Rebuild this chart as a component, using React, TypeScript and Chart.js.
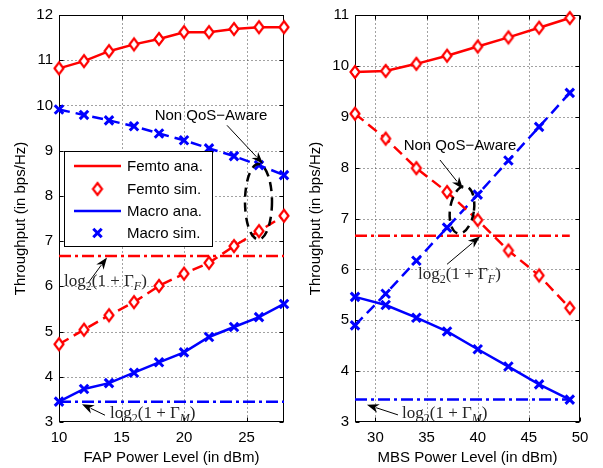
import React, { useEffect, useRef } from "react";
import { Chart, registerables } from "chart.js";
Chart.register(...registerables);

// ---------------- data ----------------
const fapPower = [10, 12, 14, 16, 18, 20, 22, 24, 26, 28];
const fapFemtoQoS = [10.82, 10.98, 11.2, 11.35, 11.47, 11.62, 11.62, 11.69, 11.73, 11.73];
const fapFemtoNonQoS = [4.72, 5.04, 5.36, 5.65, 6.01, 6.28, 6.52, 6.89, 7.22, 7.56];
const fapMacroQoS = [3.45, 3.73, 3.86, 4.09, 4.32, 4.54, 4.88, 5.1, 5.32, 5.61];
const fapMacroNonQoS = [9.91, 9.79, 9.67, 9.54, 9.38, 9.23, 9.05, 8.88, 8.68, 8.46];
const fapFemtoMin = 6.67;
const fapMacroMin = 3.45;

const mbsPower = [28, 31, 34, 37, 40, 43, 46, 49];
const mbsFemtoQoS = [9.88, 9.9, 10.04, 10.2, 10.38, 10.56, 10.75, 10.94];
const mbsFemtoNonQoS = [9.06, 8.57, 7.99, 7.52, 6.97, 6.37, 5.88, 5.24];
const mbsMacroQoS = [5.46, 5.3, 5.05, 4.78, 4.43, 4.09, 3.74, 3.44];
const mbsMacroNonQoS = [4.9, 5.52, 6.17, 6.82, 7.47, 8.14, 8.8, 9.47];
const mbsFemtoMin = 6.66;
const mbsMacroMin = 3.44;

const fapXTicks = [10, 15, 20, 25];
const fapYTicks = [3, 4, 5, 6, 7, 8, 9, 10, 11, 12];
const mbsXTicks = [30, 35, 40, 45, 50];
const mbsYTicks = [3, 4, 5, 6, 7, 8, 9, 10, 11];

const legendLabels = ["Femto ana.", "Femto sim.", "Macro ana.", "Macro sim."];
const yTitle = "Throughput (in bps/Hz)";
const fapTitle = "FAP Power Level (in dBm)";
const mbsTitle = "MBS Power Level (in dBm)";
const nonQoSLabel = "Non QoS\u2212Aware";

// ---------------- styles ----------------
const RED = "#ff0000";
const BLUE = "#0000ff";
const SANS = '"Liberation Sans", Arial, Helvetica, sans-serif';
const SERIF = '"Liberation Serif", "Times New Roman", serif';
const DASH = [11, 6];
const DASHDOT = [12, 4, 3, 4];

// annotation layout (data coordinates)
const leftAnn = {
  labels: [{ x: 22.16, y: 9.78, text: nonQoSLabel }],
  arrows: [
    { x1: 23.44, y1: 9.56, x2: 26.32, y2: 8.71 },
    { x1: 12.32, y1: 6.07, x2: 13.84, y2: 6.64 },
    { x1: 13.68, y1: 3.15, x2: 11.84, y2: 3.395 },
  ],
  ellipses: [{ x: 25.96, y: 7.87, rx: 1.08, ry: 0.834, rot: 0 }],
  maths: [
    { x: 10.4, y: 6.12, sub: "F" },
    { x: 14.08, y: 3.2, sub: "M" },
  ],
};
const rightAnn = {
  labels: [{ x: 38.27, y: 8.42, text: nonQoSLabel }],
  arrows: [
    { x1: 36.31, y1: 8.15, x2: 38.56, y2: 7.58 },
    { x1: 37.0, y1: 6.1, x2: 40.22, y2: 6.645 },
    { x1: 32.2, y1: 3.14, x2: 29.17, y2: 3.34 },
  ],
  ellipses: [{ x: 38.46, y: 7.17, rx: 1.17, ry: 0.47, rot: 0.15 }],
  maths: [
    { x: 34.16, y: 5.9, sub: "F" },
    { x: 32.6, y: 3.18, sub: "M" },
  ],
};

function makeDiamond(): HTMLCanvasElement {
  const c = document.createElement("canvas");
  c.width = 14;
  c.height = 18;
  const g = c.getContext("2d")!;
  g.beginPath();
  g.moveTo(7, 3);
  g.lineTo(11.5, 9);
  g.lineTo(7, 15);
  g.lineTo(2.5, 9);
  g.closePath();
  g.fillStyle = "#fff";
  g.fill();
  g.strokeStyle = RED;
  g.lineWidth = 2.2;
  g.stroke();
  return c;
}

function pts(xs: number[], ys: number[]) {
  return xs.map((x, i) => ({ x, y: ys[i] }));
}
function hline(xs: number[], v: number) {
  return [
    { x: xs[0], y: v },
    { x: xs[xs.length - 1], y: v },
  ];
}

function drawArrow(ctx: CanvasRenderingContext2D, x1: number, y1: number, x2: number, y2: number) {
  const ang = Math.atan2(y2 - y1, x2 - x1);
  const len = 12;
  const hw = 4.5;
  ctx.save();
  ctx.strokeStyle = "#000";
  ctx.fillStyle = "#000";
  ctx.lineWidth = 1;
  ctx.setLineDash([]);
  ctx.beginPath();
  ctx.moveTo(x1, y1);
  ctx.lineTo(x2 - Math.cos(ang) * len * 0.8, y2 - Math.sin(ang) * len * 0.8);
  ctx.stroke();
  const bx = x2 - Math.cos(ang) * len;
  const by = y2 - Math.sin(ang) * len;
  ctx.beginPath();
  ctx.moveTo(x2, y2);
  ctx.lineTo(bx + Math.sin(ang) * hw, by - Math.cos(ang) * hw);
  ctx.lineTo(x2 - Math.cos(ang) * len * 0.7, y2 - Math.sin(ang) * len * 0.7);
  ctx.lineTo(bx - Math.sin(ang) * hw, by + Math.cos(ang) * hw);
  ctx.closePath();
  ctx.fill();
  ctx.restore();
}

function drawLog(ctx: CanvasRenderingContext2D, x: number, yMid: number, sub: string) {
  const fs = 17;
  const ss = 12;
  const base = yMid + 5;
  ctx.save();
  ctx.fillStyle = "#262626";
  ctx.textBaseline = "alphabetic";
  ctx.textAlign = "left";
  let cx = x;
  const put = (t: string, font: string, dy: number) => {
    ctx.font = font;
    ctx.fillText(t, cx, base + dy);
    cx += ctx.measureText(t).width;
  };
  put("log", `${fs}px ${SERIF}`, 0);
  put("2", `${ss}px ${SERIF}`, 4);
  put("(1 + \u0393", `${fs}px ${SERIF}`, 0);
  put(sub, `italic ${ss}px ${SERIF}`, 4);
  put(")", `${fs}px ${SERIF}`, 0);
  ctx.restore();
}

function decorPlugin(spec: any, diamond: HTMLCanvasElement) {
  return {
    id: "decor",
    beforeDatasetsDraw(chart: any) {
      const ctx = chart.ctx as CanvasRenderingContext2D;
      const a = chart.chartArea;
      const xs = chart.scales.x;
      const ys = chart.scales.y;
      const L = Math.round(a.left) + 0.5;
      const R = Math.round(a.right) - 0.5;
      const T = Math.round(a.top) + 0.5;
      const B = Math.round(a.bottom) - 0.5;
      ctx.save();
      // dotted grid
      ctx.strokeStyle = "#444";
      ctx.lineWidth = 1;
      ctx.setLineDash([1, 3]);
      for (const v of spec.xTicks) {
        const px = Math.round(xs.getPixelForValue(v)) + 0.5;
        if (px <= L + 1 || px >= R - 1) continue;
        ctx.beginPath();
        ctx.moveTo(px, T);
        ctx.lineTo(px, B);
        ctx.stroke();
      }
      for (const v of spec.yTicks) {
        const py = Math.round(ys.getPixelForValue(v)) + 0.5;
        if (py <= T + 1 || py >= B - 1) continue;
        ctx.beginPath();
        ctx.moveTo(L, py);
        ctx.lineTo(R, py);
        ctx.stroke();
      }
      ctx.setLineDash([]);
      // frame
      ctx.strokeStyle = "#000";
      ctx.strokeRect(L, T, R - L, B - T);
      // inward ticks
      ctx.beginPath();
      for (const v of spec.xTicks) {
        const px = Math.round(xs.getPixelForValue(v)) + 0.5;
        ctx.moveTo(px, B);
        ctx.lineTo(px, B - 4);
        ctx.moveTo(px, T);
        ctx.lineTo(px, T + 4);
      }
      for (const v of spec.yTicks) {
        const py = Math.round(ys.getPixelForValue(v)) + 0.5;
        ctx.moveTo(L, py);
        ctx.lineTo(L + 4, py);
        ctx.moveTo(R, py);
        ctx.lineTo(R - 4, py);
      }
      ctx.stroke();
      ctx.restore();
    },
    afterDatasetsDraw(chart: any) {
      const ctx = chart.ctx as CanvasRenderingContext2D;
      const xs = chart.scales.x;
      const ys = chart.scales.y;
      const X = (v: number) => xs.getPixelForValue(v);
      const Y = (v: number) => ys.getPixelForValue(v);
      const ann = spec.ann;
      ctx.save();
      // ellipses
      for (const e of ann.ellipses) {
        ctx.beginPath();
        ctx.strokeStyle = "#000";
        ctx.lineWidth = 2.5;
        ctx.setLineDash([9, 6]);
        const rx = Math.abs(X(e.x + e.rx) - X(e.x));
        const ry = Math.abs(Y(e.y + e.ry) - Y(e.y));
        ctx.ellipse(X(e.x), Y(e.y), rx, ry, e.rot, 0, Math.PI * 2);
        ctx.stroke();
      }
      ctx.setLineDash([]);
      for (const ar of ann.arrows) drawArrow(ctx, X(ar.x1), Y(ar.y1), X(ar.x2), Y(ar.y2));
      ctx.fillStyle = "#000";
      ctx.font = `15px ${SANS}`;
      ctx.textAlign = "center";
      ctx.textBaseline = "middle";
      for (const l of ann.labels) ctx.fillText(l.text, X(l.x), Y(l.y));
      for (const m of ann.maths) drawLog(ctx, X(m.x), Y(m.y), m.sub);

      // legend
      if (spec.legend) {
        const bx = 64.5, by = 151.5, bw = 148, bh = 95;
        ctx.fillStyle = "#fff";
        ctx.fillRect(bx, by, bw, bh);
        ctx.strokeStyle = "#000";
        ctx.lineWidth = 1;
        ctx.strokeRect(bx, by, bw, bh);
        const rows = [166, 189, 211, 233];
        const sx1 = 74, sx2 = 121, cx = 97.5;
        ctx.lineWidth = 2.5;
        ctx.strokeStyle = RED;
        ctx.beginPath();
        ctx.moveTo(sx1, rows[0]);
        ctx.lineTo(sx2, rows[0]);
        ctx.stroke();
        ctx.drawImage(diamond, cx - diamond.width / 2, rows[1] - diamond.height / 2);
        ctx.strokeStyle = BLUE;
        ctx.beginPath();
        ctx.moveTo(sx1, rows[2]);
        ctx.lineTo(sx2, rows[2]);
        ctx.stroke();
        const r = 4.2;
        ctx.lineWidth = 3;
        ctx.beginPath();
        ctx.moveTo(cx - r, rows[3] - r);
        ctx.lineTo(cx + r, rows[3] + r);
        ctx.moveTo(cx - r, rows[3] + r);
        ctx.lineTo(cx + r, rows[3] - r);
        ctx.stroke();
        ctx.fillStyle = "#000";
        ctx.font = `15px ${SANS}`;
        ctx.textAlign = "left";
        ctx.textBaseline = "middle";
        legendLabels.forEach((t, i) => ctx.fillText(t, 127, rows[i] + 1));
      }
      ctx.restore();
    },
  };
}

function buildConfig(spec: any, diamond: HTMLCanvasElement): any {
  const marker = (data: any, color: string, style: any) => ({
    data,
    showLine: false,
    pointStyle: style,
    pointRadius: 6,
    pointBorderColor: color,
    pointBackgroundColor: "#fff",
    pointBorderWidth: 3,
    clip: false,
  });
  const line = (data: any, color: string, dash: number[]) => ({
    data,
    showLine: true,
    borderColor: color,
    borderWidth: 2.5,
    borderDash: dash,
    pointRadius: 0,
    fill: false,
    tension: 0,
    clip: false,
  });
  const xs = spec.xs;
  const datasets = [
    marker(pts(xs, spec.femtoQoS), RED, diamond),
    marker(pts(xs, spec.femtoNon), RED, diamond),
    marker(pts(xs, spec.macroQoS), BLUE, "crossRot"),
    marker(pts(xs, spec.macroNon), BLUE, "crossRot"),
    line(pts(xs, spec.femtoQoS), RED, []),
    line(pts(xs, spec.femtoNon), RED, DASH),
    line(pts(xs, spec.macroQoS), BLUE, []),
    line(pts(xs, spec.macroNon), BLUE, DASH),
    line(hline(xs, spec.femtoMin), RED, DASHDOT),
    line(hline(xs, spec.macroMin), BLUE, DASHDOT),
  ];
  const tickFont = { family: SANS, size: 15 };
  return {
    type: "line",
    data: { datasets },
    options: {
      responsive: false,
      animation: false,
      events: [],
      layout: { padding: { top: 12, right: spec.padRight, left: 0, bottom: 0 } },
      plugins: { legend: { display: false }, tooltip: { enabled: false } },
      scales: {
        x: {
          type: "linear",
          min: spec.xMin,
          max: spec.xMax,
          grid: { display: false, drawTicks: false },
          border: { display: false },
          ticks: { font: tickFont, color: "#000", padding: 7, maxRotation: 0, autoSkip: false },
          afterBuildTicks: (s: any) => {
            s.ticks = spec.xTicks.map((v: number) => ({ value: v }));
          },
          afterFit: (s: any) => {
            s.height = 46;
          },
          title: {
            display: true,
            text: spec.xTitle,
            font: { family: SANS, size: 15 },
            color: "#000",
            padding: { top: 0, bottom: 1 },
          },
        },
        y: {
          type: "linear",
          min: spec.yMin,
          max: spec.yMax,
          grid: { display: false, drawTicks: false },
          border: { display: false },
          ticks: { font: tickFont, color: "#000", padding: 6, autoSkip: false },
          afterBuildTicks: (s: any) => {
            s.ticks = spec.yTicks.map((v: number) => ({ value: v }));
          },
          afterFit: (s: any) => {
            s.width = spec.yAxisWidth;
          },
          title: {
            display: true,
            text: yTitle,
            font: { family: SANS, size: 15 },
            color: "#000",
            padding: { top: spec.yTitlePad, bottom: 0 },
          },
        },
      },
    },
    plugins: [decorPlugin(spec, diamond)],
  };
}

const leftSpec = {
  xs: fapPower,
  femtoQoS: fapFemtoQoS,
  femtoNon: fapFemtoNonQoS,
  macroQoS: fapMacroQoS,
  macroNon: fapMacroNonQoS,
  femtoMin: fapFemtoMin,
  macroMin: fapMacroMin,
  xMin: 10,
  xMax: 28,
  yMin: 3,
  yMax: 12,
  xTicks: fapXTicks,
  yTicks: fapYTicks,
  xTitle: fapTitle,
  yAxisWidth: 59,
  padRight: 16,
  yTitlePad: 12,
  legend: true,
  ann: leftAnn,
};

const rightSpec = {
  xs: mbsPower,
  femtoQoS: mbsFemtoQoS,
  femtoNon: mbsFemtoNonQoS,
  macroQoS: mbsMacroQoS,
  macroNon: mbsMacroNonQoS,
  femtoMin: mbsFemtoMin,
  macroMin: mbsMacroMin,
  xMin: 28,
  xMax: 50,
  yMin: 3,
  yMax: 11,
  xTicks: mbsXTicks,
  yTicks: mbsYTicks,
  xTitle: mbsTitle,
  yAxisWidth: 55,
  padRight: 23,
  yTitlePad: 7,
  legend: false,
  ann: rightAnn,
};

export default function App() {
  const leftRef = useRef<HTMLCanvasElement>(null);
  const rightRef = useRef<HTMLCanvasElement>(null);
  useEffect(() => {
    const diamond = makeDiamond();
    const c1 = new Chart(leftRef.current as HTMLCanvasElement, buildConfig(leftSpec, diamond));
    const c2 = new Chart(rightRef.current as HTMLCanvasElement, buildConfig(rightSpec, diamond));
    return () => {
      c1.destroy();
      c2.destroy();
    };
  }, []);
  return (
    <div style={{ position: "absolute", left: 0, top: 0, width: 603, height: 468, background: "#fff" }}>
      <canvas ref={leftRef} width={300} height={468} style={{ position: "absolute", left: 0, top: 0 }} />
      <canvas ref={rightRef} width={303} height={468} style={{ position: "absolute", left: 300, top: 0 }} />
    </div>
  );
}
